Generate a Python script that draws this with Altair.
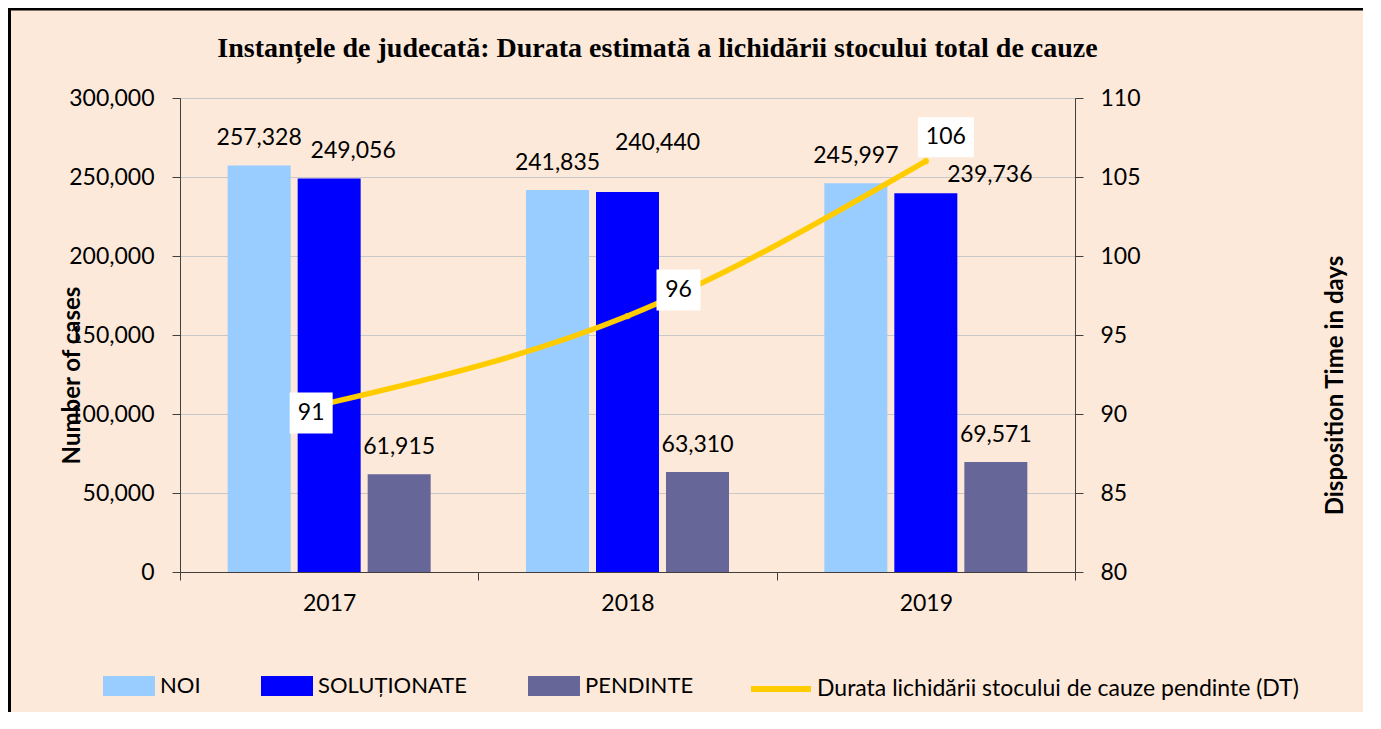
import altair as alt
import pandas as pd

# ---------------- data ----------------
years = ["2017", "2018", "2019"]
series = ["NOI", "SOLUȚIONATE", "PENDINTE"]
noi = [257328, 241835, 245997]
solutionate = [249056, 240440, 239736]
pendinte = [61915, 63310, 69571]
dt_days = [90.7, 96.2, 106.0]
dt_labels = ["91", "96", "106"]
line_name = "Durata lichidării stocului de cauze pendinte (DT)"

chart_title = "Instanțele de judecată: Durata estimată a lichidării stocului total de cauze"
left_title = "Number of cases"
right_title = "Disposition Time in days"
left_ticks = [0, 50000, 100000, 150000, 200000, 250000, 300000]
right_ticks = [80, 85, 90, 95, 100, 105, 110]

# ---------------- tables ----------------
rows = []
for i, y in enumerate(years):
    for s, vals in zip(series, [noi, solutionate, pendinte]):
        rows.append({"year": y, "series": s, "value": vals[i], "label": f"{vals[i]:,}"})
bars_df = pd.DataFrame(rows)
line_df = pd.DataFrame({"year": years, "dt": dt_days, "label": dt_labels, "name": [line_name] * 3})

# ---------------- style ----------------
BG = "#FDE9D9"
FONT = "Lato"
FS = 23
bar_colors = ["#99CCFF", "#0000FF", "#666699"]
line_color = "#FFCC00"

bar_label_offsets = {
    ("2017", "SOLUȚIONATE"): (24, -27),
    ("2018", "SOLUȚIONATE"): (30, -49),
    ("2019", "SOLUȚIONATE"): (64, -18),
}
default_bar_offset = (0, -27)
box_style = {  # dx, dy, width, height
    "2017": (-18, 10, 43, 41),
    "2018": (51, -26, 44, 41),
    "2019": (20, -24, 56, 40),
}

x_enc = alt.X(
    "year:N",
    scale=alt.Scale(domain=years, paddingInner=0, paddingOuter=0),
    axis=alt.Axis(title=None, labelAngle=0, tickBand="extent", tickSize=8,
                  labelPadding=12, grid=False, domainColor="#404040", tickColor="#404040"),
)
y_left = alt.Y(
    "value:Q",
    scale=alt.Scale(domain=[0, 300000], nice=False),
    axis=alt.Axis(title=left_title, values=left_ticks,
                  labelExpr="format(datum.value, ',')", tickSize=8, labelPadding=18, grid=True,
                  titleX=-108, titleY=277, titleAngle=270, titleAlign="center",
                  titleBaseline="middle", titleFont=FONT, titleFontSize=24,
                  titleFontWeight="bold", titleColor="black"),
)
y_right = alt.Y(
    "dt:Q",
    scale=alt.Scale(domain=[80, 110], nice=False),
    axis=alt.Axis(title=right_title, orient="right", values=right_ticks,
                  tickSize=8, labelPadding=17, grid=False,
                  titleX=260, titleY=287, titleAngle=270, titleAlign="center",
                  titleBaseline="middle", titleFont=FONT, titleFontSize=24,
                  titleFontWeight="bold", titleColor="black"),
)
x_off = alt.XOffset("series:N", scale=alt.Scale(domain=series, paddingInner=0.1, paddingOuter=0.681))

rect_path = "M-1,-0.385 L1,-0.385 L1,0.385 L-1,0.385 Z"

bars = alt.Chart(bars_df).mark_bar().encode(
    x=x_enc,
    xOffset=x_off,
    y=y_left,
    color=alt.Color("series:N", scale=alt.Scale(domain=series, range=bar_colors),
                    legend=alt.Legend(title=None, orient="none", legendX=-77, legendY=562,
                                      direction="horizontal", symbolType=rect_path,
                                      symbolSize=2704, symbolStrokeWidth=0, labelOffset=5,
                                      columnPadding=60, padding=0, labelFont=FONT,
                                      labelFontSize=22, labelColor="black", labelLimit=0)),
)

bar_label_layers = []
for y in years:
    for s in series:
        dx, dy = bar_label_offsets.get((y, s), default_bar_offset)
        bar_label_layers.append(
            alt.Chart(bars_df).transform_filter(
                (alt.datum.year == y) & (alt.datum.series == s)
            ).mark_text(font=FONT, fontSize=FS, color="black", baseline="middle",
                        align="center", dx=dx, dy=dy).encode(
                x=x_enc, xOffset=x_off, y=y_left, text="label:N",
            )
        )

frame_df = pd.DataFrame({"k": [0]})
frame_left = alt.Chart(frame_df).mark_rule(color="black", strokeWidth=3).encode(
    x=alt.value(-170.5), y=alt.value(-89), y2=alt.value(640))
frame_top = alt.Chart(frame_df).mark_rule(color="black", strokeWidth=3).encode(
    x=alt.value(-172), x2=alt.value(1200), y=alt.value(-89))

left = alt.layer(bars, *bar_label_layers, frame_left, frame_top)

line = alt.Chart(line_df).mark_line(interpolate="monotone", strokeWidth=5.5).encode(
    x=x_enc, y=y_right,
    stroke=alt.Stroke("name:N", scale=alt.Scale(domain=[line_name], range=[line_color]),
                      legend=alt.Legend(title=None, orient="none", legendX=568, legendY=558,
                                        symbolType="stroke", symbolSize=3600,
                                        symbolStrokeWidth=6, labelOffset=3, padding=0,
                                        labelFont=FONT, labelFontSize=23, labelColor="black",
                                        labelLimit=0)),
)
pts = alt.Chart(line_df).mark_point(filled=True, size=40, color=line_color, opacity=1).encode(
    x=x_enc, y=y_right)

box_layers = []
for y in years:
    dx, dy, w, h = box_style[y]
    r = h / w
    path = f"M-1,-{r:.3f} L1,-{r:.3f} L1,{r:.3f} L-1,{r:.3f} Z"
    box_layers.append(
        alt.Chart(line_df).transform_filter(alt.datum.year == y).mark_point(
            shape=path, size=w * w, filled=True, fill="white", opacity=1, strokeWidth=0,
            xOffset=dx, yOffset=dy).encode(x=x_enc, y=y_right)
    )
    box_layers.append(
        alt.Chart(line_df).transform_filter(alt.datum.year == y).mark_text(
            font=FONT, fontSize=FS, color="black", baseline="middle", align="center",
            dx=dx, dy=dy).encode(x=x_enc, y=y_right, text="label:N")
    )

right = alt.layer(line, pts, *box_layers)

chart = alt.layer(left, right).resolve_scale(y="independent").properties(
    width=895, height=474,
    title=alt.TitleParams(text=chart_title, font="Liberation Serif", fontSize=28,
                          fontWeight="bold", color="black", anchor="middle", dx=30,
                          frame="group", baseline="alphabetic", offset=0, dy=77),
    autosize=alt.AutoSizeParams(type="none"),
    padding={"left": 172, "top": 90, "right": 288, "bottom": 140},
    background=BG,
).configure_view(stroke="#595959", strokeWidth=1).configure_axis(
    labelFont=FONT, labelFontSize=FS, labelColor="black", domainColor="#404040",
    tickColor="#404040", gridColor="#C8C8C8",
)

chart.save("out.html", embed_options={"renderer": "svg", "actions": False})
